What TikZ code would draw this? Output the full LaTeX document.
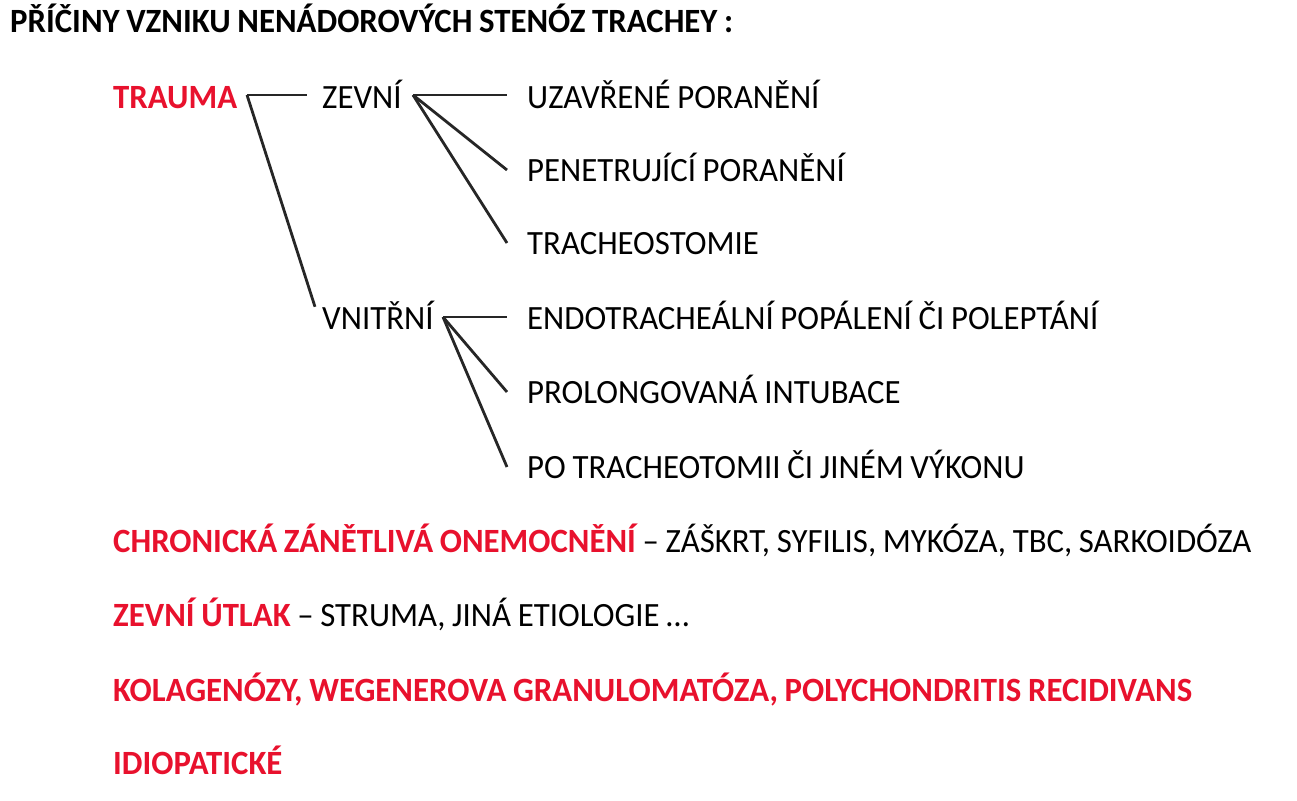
\documentclass[tikz,border=0pt]{standalone}
\usepackage{fontspec}
\setmainfont{Carlito}[FakeStretch=0.965,WordSpace=0.9]
\usetikzlibrary{calc}
\definecolor{redtxt}{HTML}{E8112D}
\begin{document}
\begin{tikzpicture}[x=1pt,y=-1pt,
  txt/.style={anchor=west,inner sep=0pt,text height=22pt,text depth=0pt,font=\fontsize{34}{40}\selectfont},
  redb/.style={txt,text=redtxt,font=\fontsize{34}{40}\selectfont\bfseries},
  ttl/.style={txt,font=\fontsize{34}{40}\selectfont\bfseries},
  conn/.style={line width=2.8pt,black!85}]
\useasboundingbox (0,0) rectangle (1297,800);
\node[ttl] (title) at (10,22) {PŘÍČINY VZNIKU NENÁDOROVÝCH STENÓZ TRACHEY :};
\node[redb] (trauma) at (113,97) {TRAUMA};
\node[txt] (zevni) at (322,97) {ZEVNÍ};
\node[txt] (vnitrni) at (322,318) {VNITŘNÍ};
\node[txt] (z1) at (527,97) {UZAVŘENÉ PORANĚNÍ};
\node[txt] (z2) at (527,170) {PENETRUJÍCÍ PORANĚNÍ};
\node[txt] (z3) at (527,243) {TRACHEOSTOMIE};
\node[txt] (v1) at (527,318) {ENDOTRACHEÁLNÍ POPÁLENÍ ČI POLEPTÁNÍ};
\node[txt] (v2) at (527,392) {PROLONGOVANÁ INTUBACE};
\node[txt] (v3) at (527,467) {PO TRACHEOTOMII ČI JINÉM VÝKONU};
\node[txt] (chron) at (113,541) {\textcolor{redtxt}{\bfseries CHRONICKÁ ZÁNĚTLIVÁ ONEMOCNĚNÍ} – ZÁŠKRT, SYFILIS, MYKÓZA, TBC, SARKOIDÓZA};
\node[txt] (utlak) at (113,615) {\textcolor{redtxt}{\bfseries ZEVNÍ ÚTLAK} – STRUMA, JINÁ ETIOLOGIE …};
\node[redb] (kolag) at (113,690) {KOLAGENÓZY, WEGENEROVA GRANULOMATÓZA, POLYCHONDRITIS RECIDIVANS};
\node[redb] (idio) at (113,763) {IDIOPATICKÉ};
\coordinate (tj) at (247,95);
\coordinate (zj) at (413,95);
\coordinate (vj) at (443,317);
\draw[conn] (tj) -- ([xshift=-15pt]zevni.west |- tj);
\draw[conn] (tj) -- ([xshift=-7pt]vnitrni.north west);
\draw[conn] (zj) -- ([xshift=-20pt]z1.west |- zj);
\draw[conn] (zj) -- ([xshift=-20pt]z2.west);
\draw[conn] (zj) -- ([xshift=-20pt]z3.west);
\draw[conn] (vj) -- ([xshift=-20pt]v1.west |- vj);
\draw[conn] (vj) -- ([xshift=-20pt]v2.west);
\draw[conn] (vj) -- ([xshift=-20pt]v3.west);
\end{tikzpicture}
\end{document}
